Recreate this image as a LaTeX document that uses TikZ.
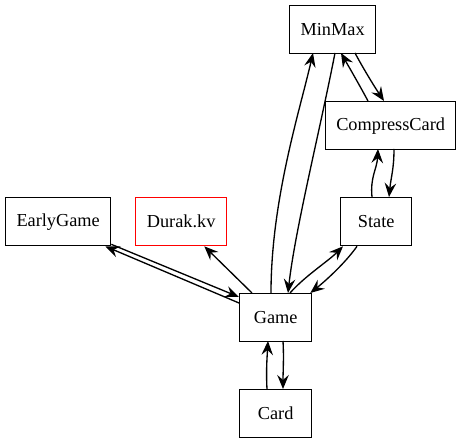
\documentclass[tikz,border=0pt]{standalone}
\usepackage{fontspec}
\setmainfont{Liberation Serif}
\usetikzlibrary{arrows.meta,calc}
\begin{document}
\begin{tikzpicture}[x=1pt,y=-1pt,
  box/.style={draw, line width=1.33pt, minimum height=48pt, inner sep=0pt, anchor=north west, font=\fontsize{18.3}{22}\selectfont},
  edge/.style={line width=1.33pt, -{Stealth[length=14pt,width=11.5pt,inset=5pt]}}]
\useasboundingbox (0,0) rectangle (461,443);
\node[box, minimum width=86pt] (MinMax) at (289,5) {MinMax};
\node[box, minimum width=130pt] (CC) at (325,101) {CompressCard};
\node[box, minimum width=71pt] (State) at (340,197) {State};
\node[box, minimum width=105pt] (Early) at (5,197) {EarlyGame};
\node[box, minimum width=91pt, draw=red] (Durak) at (135,197) {Durak.kv};
\node[box, minimum width=72pt] (Game) at (239,293) {Game};
\node[box, minimum width=72pt] (Card) at (239,389) {Card};
% Game <-> MinMax
\draw[edge] ($(Game.north west)+(32,0)$) .. controls +(0,-93) and +(-13,57) .. ($(MinMax.north west)+(24,48)$);
\draw[edge] ($(MinMax.north west)+(46,48)$) .. controls +(-15,77) and +(7,-63) .. ($(Game.north west)+(49,0)$);
% MinMax <-> CompressCard
\draw[edge] ($(MinMax.north west)+(66,48)$) .. controls +(8,15) and +(-10,-15) .. ($(CC.north west)+(59,0)$);
\draw[edge] ($(CC.north west)+(43,0)$) .. controls +(-8,-15) and +(8,14) .. ($(MinMax.north west)+(52,48)$);
% State <-> CompressCard
\draw[edge] ($(State.north west)+(32,0)$) .. controls +(-2,-20) and +(-1,20) .. ($(CC.north west)+(53,48)$);
\draw[edge] ($(CC.north west)+(69,48)$) .. controls +(0,20) and +(2,-20) .. ($(State.north west)+(49,0)$);
% Game <-> State
\draw[edge] ($(Game.north west)+(51,0)$) .. controls +(15,-17) and +(-15,15) .. ($(State.south west)+(3,0)$);
\draw[edge] ($(State.south west)+(17,0)$) .. controls +(-12,17) and +(15,-12) .. ($(Game.north east)+(-2,0)$);
% Game <-> EarlyGame
\draw[edge] ($(Early.south east)+(0,-2)$) -- ($(Game.north west)+(0,4)$);
\draw[edge] ($(Game.north west)+(0,10)$) -- ($(Early.south east)+(-6,0)$);
% Game -> Durak
\draw[edge] ($(Game.north west)+(13,0)$) -- ($(Durak.south east)+(-23,0)$);
% Game <-> Card
\draw[edge] ($(Card.north west)+(28,0)$) .. controls +(-1,-18) and +(-1,18) .. ($(Game.north west)+(29,48)$);
\draw[edge] ($(Game.north west)+(44,48)$) .. controls +(1,18) and +(0,-18) .. ($(Card.north west)+(44,0)$);
\end{tikzpicture}
\end{document}
